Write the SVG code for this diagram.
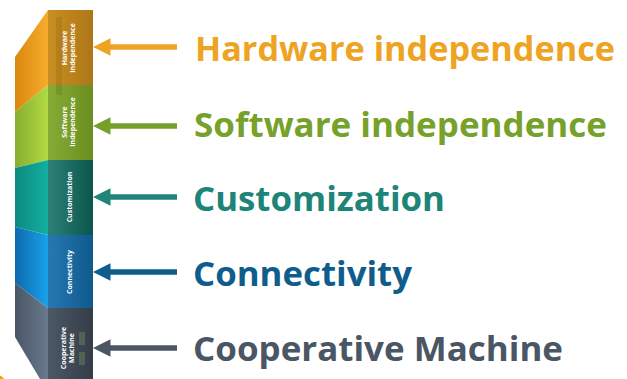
<svg xmlns="http://www.w3.org/2000/svg" width="627" height="379" viewBox="0 0 627 379">
<defs>
<linearGradient id="hwS" x1="0" x2="1" y1="0" y2="0"><stop offset="0" stop-color="#D9880E"/><stop offset="1" stop-color="#F7AC2C"/></linearGradient>
<linearGradient id="hwF" x1="0" x2="1" y1="0" y2="0"><stop offset="0" stop-color="#C98F22"/><stop offset="1" stop-color="#AE7618"/></linearGradient>
<linearGradient id="swS" x1="0" x2="1" y1="0" y2="0"><stop offset="0" stop-color="#86AE2E"/><stop offset="1" stop-color="#B2DA44"/></linearGradient>
<linearGradient id="swF" x1="0" x2="1" y1="0" y2="0"><stop offset="0" stop-color="#86AC36"/><stop offset="1" stop-color="#6A8E20"/></linearGradient>
<linearGradient id="cuS" x1="0" x2="1" y1="0" y2="0"><stop offset="0" stop-color="#0C8A7E"/><stop offset="1" stop-color="#12B0A0"/></linearGradient>
<linearGradient id="cuF" x1="0" x2="1" y1="0" y2="0"><stop offset="0" stop-color="#2C8078"/><stop offset="1" stop-color="#0C564C"/></linearGradient>
<linearGradient id="coS" x1="0" x2="1" y1="0" y2="0"><stop offset="0" stop-color="#0E6AAE"/><stop offset="1" stop-color="#18A2EA"/></linearGradient>
<linearGradient id="coF" x1="0" x2="1" y1="0" y2="0"><stop offset="0" stop-color="#2778B2"/><stop offset="1" stop-color="#0E5A8E"/></linearGradient>
<linearGradient id="cmS" x1="0" x2="1" y1="0" y2="0"><stop offset="0" stop-color="#4A5666"/><stop offset="1" stop-color="#687A8C"/></linearGradient>
<linearGradient id="cmF" x1="0" x2="1" y1="0" y2="0"><stop offset="0" stop-color="#4C5866"/><stop offset="1" stop-color="#343D48"/></linearGradient>
<marker id="ah" viewBox="0 0 10 10" refX="2" refY="5" markerWidth="3.2" markerHeight="3.2" orient="auto" markerUnits="strokeWidth"><path d="M0,0 L10,5 L0,10 Z" fill="context-stroke"/></marker>
</defs>
<style>
.lbl{font-family:"Open Sans","Liberation Sans",sans-serif;font-weight:bold;font-size:33.5px}
.blk{font-family:"Open Sans","Liberation Sans",sans-serif;font-weight:bold;font-size:7px;fill:#FFFFFF;text-anchor:middle}
.arr{stroke-width:5.5;fill:none}
</style>
<circle cx="-3" cy="383" r="8" fill="#F5A000"/>
<g id="hardware">
<polygon points="15,57 48,10 48,85 15,112" fill="url(#hwS)"/>
<rect x="48" y="10" width="45" height="75" fill="url(#hwF)"/>
<rect x="56" y="17" width="6" height="70" fill="#9A6A10" opacity="0.35"/>
<text class="blk" transform="translate(67,48) rotate(-90)">Hardware</text>
<text class="blk" transform="translate(75,48) rotate(-90)">Independence</text>
<text class="lbl" x="195" y="61" fill="#EEA322" textLength="420" lengthAdjust="spacingAndGlyphs">Hardware independence</text>
</g>
<g id="software">
<polygon points="15,112 48,85 48,160 15,168" fill="url(#swS)"/>
<rect x="48" y="85" width="45" height="75" fill="url(#swF)"/>
<rect x="56" y="85" width="6" height="10" fill="#5E7A18" opacity="0.35"/>
<text class="blk" transform="translate(67,122) rotate(-90)">Software</text>
<text class="blk" transform="translate(75,122) rotate(-90)">Independence</text>
<text class="lbl" x="194" y="137" fill="#76A12A" textLength="413" lengthAdjust="spacingAndGlyphs">Software independence</text>
</g>
<g id="customization">
<polygon points="15,168 48,160 48,235 15,227" fill="url(#cuS)"/>
<rect x="48" y="160" width="45" height="75" fill="url(#cuF)"/>
<text class="blk" transform="translate(72,197) rotate(-90)">Customization</text>
<text class="lbl" x="193" y="211" fill="#1D8478" textLength="252" lengthAdjust="spacingAndGlyphs">Customization</text>
</g>
<g id="connectivity">
<polygon points="15,227 48,235 48,308 15,283" fill="url(#coS)"/>
<rect x="48" y="235" width="45" height="73" fill="url(#coF)"/>
<text class="blk" transform="translate(72,272) rotate(-90)">Connectivity</text>
<text class="lbl" x="193" y="286" fill="#0F5D8C" textLength="219" lengthAdjust="spacingAndGlyphs">Connectivity</text>
</g>
<g id="cooperative">
<polygon points="15,283 48,308 48,379 40,379 15,337" fill="url(#cmS)"/>
<rect x="48" y="308" width="45" height="71" fill="url(#cmF)"/>
<rect x="79" y="332" width="6" height="13" fill="#5E7A58" opacity="0.6"/>
<rect x="79" y="352" width="6" height="13" fill="#5E7A58" opacity="0.6"/>
<text class="blk" transform="translate(66,348) rotate(-90)">Cooperative</text>
<text class="blk" transform="translate(74,348) rotate(-90)">Machine</text>
<text class="lbl" x="193" y="361" fill="#4A5664" textLength="370" lengthAdjust="spacingAndGlyphs">Cooperative Machine</text>
</g>
<g id="connectors">
<line class="arr" x1="177" y1="47" x2="107" y2="47" stroke="#EFA323" marker-end="url(#ah)"/>
<line class="arr" x1="177" y1="126" x2="107" y2="126" stroke="#76A02C" marker-end="url(#ah)"/>
<line class="arr" x1="177" y1="197" x2="107" y2="197" stroke="#208579" marker-end="url(#ah)"/>
<line class="arr" x1="177" y1="272" x2="107" y2="272" stroke="#0F5D8C" marker-end="url(#ah)"/>
<line class="arr" x1="177" y1="348" x2="107" y2="348" stroke="#4A5664" marker-end="url(#ah)"/>
</g>
</svg>
